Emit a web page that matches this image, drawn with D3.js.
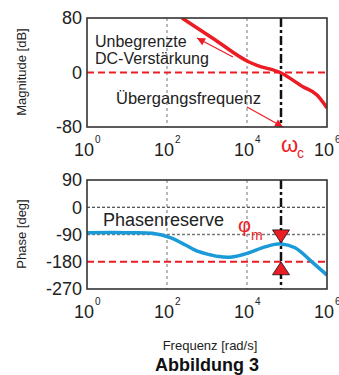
<!DOCTYPE html>
<html>
<head>
<meta charset="utf-8">
<script src="https://cdn.jsdelivr.net/npm/d3@7"></script>
<style>
body { margin: 0; background: #fff; }
svg { display: block; font-family: "Liberation Sans", Arial, Helvetica, sans-serif; }
</style>
</head>
<body>
<div id="chart"></div>
<script>
// Données (Bode)
const decades = [1, 1e2, 1e4, 1e6];
const decadeExp = ["0", "2", "4", "6"];
const gridFreq = [1e2, 1e4];
const magTicks = [80, 0, -80];
const phaseTicks = [90, 0, -90, -180, -270];

const magFreq = [237, 1585, 11220, 17780, 67600, 251190, 562340, 1e6];
const magDb = [80, 48, 15.4, 10.5, 0, -21, -33, -52];

const phaseFreq = [1, 10, 42.7, 126, 282, 603, 1202, 1995, 4266, 10715, 28184, 70795, 158489, 426580, 1e6];
const phaseDeg = [-84, -84, -86, -101, -124, -146, -157, -163, -164, -151, -131, -121, -134, -181, -224];

const omegaC = 70795;   // fréquence de coupure
const phaseAtC = -121;  // phase à omega_c

// flèches d'annotation [freq, valeur]
const arrowDC = [[4467, 22.7], [562, 50.6]];
const arrowCross = [[10000, -50.6], [79433, -80]];

// Paramètres
const W = 339, H = 375;
const left = 87, right = 327;
const red = '#ec1c24', blue = '#1b9ad8', dark = '#222';

const svg = d3.select('#chart').append('svg')
  .attr('width', W).attr('height', H);

const defs = svg.append('defs');
defs.append('marker')
  .attr('id', 'head')
  .attr('viewBox', '0 0 10 10')
  .attr('refX', 10).attr('refY', 5)
  .attr('markerWidth', 10).attr('markerHeight', 8)
  .attr('markerUnits', 'userSpaceOnUse')
  .attr('orient', 'auto')
  .append('path').attr('d', 'M0,0 L10,5 L0,10 Z').attr('fill', red);

const x = d3.scaleLog().domain([1, 1e6]).range([left, right]);
const yMag = d3.scaleLinear().domain([-80, 80]).range([127, 18]);
const yPh = d3.scaleLinear().domain([-270, 90]).range([289, 180]);

function clip(id, y) {
  defs.append('clipPath').attr('id', id)
    .append('rect')
    .attr('x', x.range()[0]).attr('y', y.range()[1])
    .attr('width', x.range()[1] - x.range()[0])
    .attr('height', y.range()[0] - y.range()[1]);
}
clip('clipMag', yMag);
clip('clipPh', yPh);

function hline(g, y, v, color, w, dash) {
  g.append('line')
    .attr('x1', left).attr('x2', right)
    .attr('y1', y(v)).attr('y2', y(v))
    .attr('stroke', color).attr('stroke-width', w)
    .attr('stroke-dasharray', dash);
}

function panel(y, ticks, xLabelY) {
  const g = svg.append('g');
  // grille verticale
  g.selectAll('line.grid').data(gridFreq).join('line')
    .attr('x1', d => x(d)).attr('x2', d => x(d))
    .attr('y1', y.range()[1]).attr('y2', y.range()[0])
    .attr('stroke', '#777').attr('stroke-width', 1)
    .attr('stroke-dasharray', '3,3');
  // axe Y
  g.selectAll('text.yt').data(ticks).join('text')
    .attr('x', left - 5).attr('y', d => y(d))
    .attr('dy', '0.36em')
    .attr('text-anchor', 'end')
    .attr('font-size', 18).attr('fill', dark)
    .text(d => d);
  // axe X (10^n)
  g.selectAll('text.xt').data(decades).join('text')
    .attr('x', d => x(d) - 3).attr('y', xLabelY)
    .attr('text-anchor', 'middle')
    .attr('font-size', 18).attr('fill', dark)
    .text('10');
  g.selectAll('text.xs').data(decades).join('text')
    .attr('x', d => x(d) + 8).attr('y', xLabelY - 13)
    .attr('font-size', 10).attr('fill', dark)
    .text((d, i) => decadeExp[i]);
  return g;
}

function frame(g, y) {
  g.append('rect')
    .attr('x', left).attr('y', y.range()[1])
    .attr('width', right - left).attr('height', y.range()[0] - y.range()[1])
    .attr('fill', 'none').attr('stroke', '#333').attr('stroke-width', 1.6);
}

function omegaLine(g, y) {
  g.append('line')
    .attr('x1', x(omegaC)).attr('x2', x(omegaC))
    .attr('y1', y.range()[1]).attr('y2', y.range()[0])
    .attr('stroke', '#111').attr('stroke-width', 2.5)
    .attr('stroke-dasharray', '9,3,3,3');
}

// ---------- Magnitude ----------
const gMag = panel(yMag, magTicks, 156);
hline(gMag, yMag, 0, red, 2, '7,4');
omegaLine(gMag, yMag);

gMag.append('path')
  .datum(magFreq.map((f, i) => [f, magDb[i]]))
  .attr('clip-path', 'url(#clipMag)')
  .attr('fill', 'none').attr('stroke', red).attr('stroke-width', 3.5)
  .attr('d', d3.line().x(d => x(d[0])).y(d => yMag(d[1])).curve(d3.curveMonotoneX));

gMag.append('text').attr('x', 95).attr('y', 47).attr('font-size', 16).attr('fill', dark).text('Unbegrenzte');
gMag.append('text').attr('x', 95).attr('y', 64).attr('font-size', 16).attr('fill', dark).text('DC-Verstärkung');
gMag.append('text').attr('x', 116).attr('y', 104).attr('font-size', 16.5).attr('fill', dark).text('Übergangsfrequenz');

[arrowDC, arrowCross].forEach(a => {
  gMag.append('line')
    .attr('x1', x(a[0][0])).attr('y1', yMag(a[0][1]))
    .attr('x2', x(a[1][0])).attr('y2', yMag(a[1][1]))
    .attr('stroke', red).attr('stroke-width', 1.2)
    .attr('marker-end', 'url(#head)');
});
frame(gMag, yMag);

// omega_c
svg.append('text').attr('x', x(omegaC)).attr('y', 152)
  .attr('font-size', 22).attr('fill', red).text('ω');
svg.append('text').attr('x', x(omegaC) + 16).attr('y', 158)
  .attr('font-size', 14).attr('fill', red).text('c');

// ---------- Phase ----------
const gPh = panel(yPh, phaseTicks, 318);
hline(gPh, yPh, 0, dark, 1, '3,2');
hline(gPh, yPh, -90, '#777', 1.3, '3,2');
hline(gPh, yPh, -180, red, 2, '7,4');
omegaLine(gPh, yPh);

gPh.append('path')
  .datum(phaseFreq.map((f, i) => [f, phaseDeg[i]]))
  .attr('clip-path', 'url(#clipPh)')
  .attr('fill', 'none').attr('stroke', blue).attr('stroke-width', 3.5)
  .attr('d', d3.line().x(d => x(d[0])).y(d => yPh(d[1])).curve(d3.curveCatmullRom));

// triangles de marge de phase
const cx = x(omegaC), tw = 8.5, th = 13;
const tTop = yPh(phaseAtC) - 1, tBot = yPh(-180);
gPh.append('path')
  .attr('d', `M${cx - tw},${tTop - th} L${cx + tw},${tTop - th} L${cx},${tTop} Z`)
  .attr('fill', red).attr('stroke', '#111').attr('stroke-width', 0.8);
gPh.append('path')
  .attr('d', `M${cx - tw},${tBot + th} L${cx + tw},${tBot + th} L${cx},${tBot} Z`)
  .attr('fill', red).attr('stroke', '#111').attr('stroke-width', 0.8);

gPh.append('text').attr('x', 103).attr('y', 226).attr('font-size', 18).attr('fill', dark).text('Phasenreserve');
gPh.append('text').attr('x', 238).attr('y', 232).attr('font-size', 20).attr('fill', red).text('φ');
gPh.append('text').attr('x', 251).attr('y', 240).attr('font-size', 14).attr('fill', red).text('m');
frame(gPh, yPh);

// ---------- Titres d'axes ----------
svg.append('text')
  .attr('transform', 'translate(26,72) rotate(-90)')
  .attr('text-anchor', 'middle').attr('font-size', 13).attr('fill', dark)
  .text('Magnitude [dB]');
svg.append('text')
  .attr('transform', 'translate(26,234) rotate(-90)')
  .attr('text-anchor', 'middle').attr('font-size', 13).attr('fill', dark)
  .text('Phase [deg]');
svg.append('text')
  .attr('x', 210).attr('y', 350)
  .attr('text-anchor', 'middle').attr('font-size', 13).attr('fill', dark)
  .text('Frequenz [rad/s]');
svg.append('text')
  .attr('x', 207).attr('y', 371)
  .attr('text-anchor', 'middle').attr('font-size', 18).attr('font-weight', 'bold').attr('fill', '#111')
  .text('Abbildung 3');
</script>
</body>
</html>
